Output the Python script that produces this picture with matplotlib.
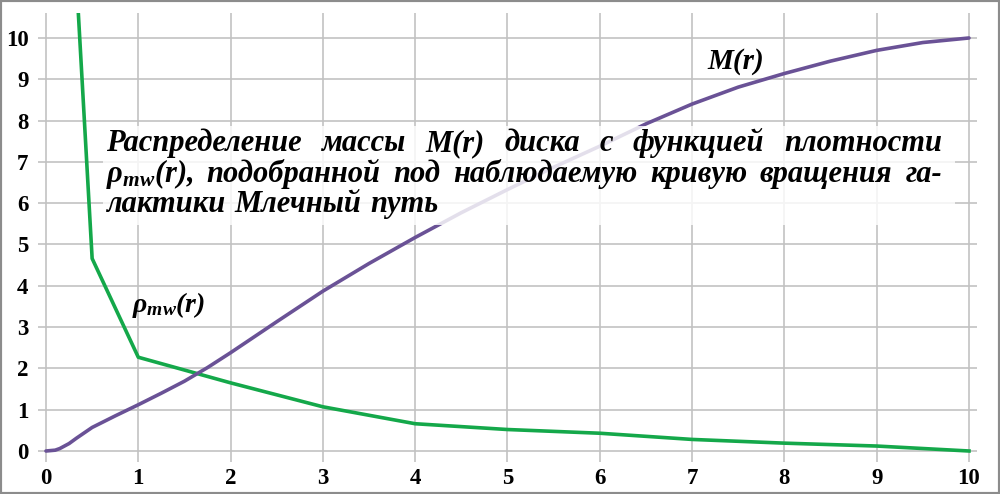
import matplotlib
matplotlib.use('Agg')
import matplotlib.pyplot as plt
from matplotlib.patches import Rectangle

# rho_mw(r): density profile (polyline)
r_rho = [0.3, 0.5, 1, 2, 3, 4, 5, 6, 7, 8, 9, 10]
rho = [12.6, 4.66, 2.27, 1.65, 1.07, 0.66, 0.52, 0.43, 0.28, 0.19, 0.12, 0.0]

# M(r): disk mass distribution
r_mass = [0, 0.1, 0.15, 0.25, 0.33, 0.5, 0.75, 1, 1.25, 1.5, 1.75, 2, 2.5, 3,
          3.5, 4, 4.5, 5, 5.5, 6, 6.5, 7, 7.5, 8, 8.5, 9, 9.5, 10]
mass = [0, 0.02, 0.06, 0.18, 0.31, 0.57, 0.85, 1.12, 1.4, 1.69, 2.02, 2.38,
        3.13, 3.87, 4.54, 5.17, 5.77, 6.33, 6.87, 7.38, 7.92, 8.4, 8.81, 9.14,
        9.44, 9.7, 9.89, 10.0]

x_ticks = list(range(0, 11))
y_ticks = list(range(0, 11))

caption_lines = [
    "Распределение массы M(r) диска с функцией плотности",
    r"$\rho_{mw}$(r), подобранной под наблюдаемую кривую вращения га-",
    "лактики Млечный путь",
]

plt.rcParams['mathtext.fontset'] = 'custom'
plt.rcParams['mathtext.rm'] = 'Liberation Serif:bold:italic'
plt.rcParams['mathtext.it'] = 'Liberation Serif:bold:italic'
plt.rcParams['mathtext.bf'] = 'Liberation Serif:bold:italic'

serif = 'Liberation Serif'
W, H = 1000, 494
fig = plt.figure(figsize=(W / 100, H / 100), dpi=100)
fig.patch.set_facecolor('white')

# axes box in pixels (from top-left)
left_px, right_px, top_px, bottom_px = 42.3, 977.3, 13.2, 454.3
ax = fig.add_axes([left_px / W, 1 - bottom_px / H,
                   (right_px - left_px) / W, (bottom_px - top_px) / H])

green = '#14a84a'
purple = '#6a5296'
ax.plot(r_rho, rho, color=green, lw=2.6, zorder=2, solid_joinstyle='round')
ax.plot(r_mass, mass, color=purple, lw=2.6, zorder=2, solid_capstyle='round',
        solid_joinstyle='round')

ax.set_xlim(-0.04, 10.09)
ax.set_ylim(-0.08, 10.6)
ax.set_xticks(x_ticks)
ax.set_yticks(y_ticks)
ax.grid(True, color='#c2c2c2', lw=1.2)
ax.set_axisbelow(True)
for s in ax.spines.values():
    s.set_visible(False)
ax.tick_params(axis='x', length=6, width=1.2, color='#c2c2c2', pad=4,
               labelsize=16.5)
ax.tick_params(axis='y', length=3, width=1.2, color='#c2c2c2', pad=7,
               labelsize=16.5)
for lab in ax.get_xticklabels() + ax.get_yticklabels():
    lab.set_fontfamily(serif)
    lab.set_fontweight('bold')

# curve labels
lab_kw = dict(fontfamily=serif, fontweight='bold', fontstyle='italic',
              color='black', zorder=5)
ax.text(0.93, 3.37, r"$\rho_{mw}$(r)", ha='left', va='baseline', fontsize=20,
        **lab_kw)
ax.text(7.17, 9.26, "M(r)", ha='left', va='baseline', fontsize=21, **lab_kw)

# translucent white box behind the caption
box = Rectangle((103 / 100, (H - 225) / 100), (955 - 103) / 100, (225 - 126) / 100,
                transform=fig.dpi_scale_trans, facecolor='white', alpha=0.82,
                edgecolor='none', zorder=3)
fig.add_artist(box)

# justified caption, word by word
fig.canvas.draw()
renderer = fig.canvas.get_renderer()
x0, x1 = 106, 942
baselines = [151, 182, 212]
cap_kw = dict(fontfamily=serif, fontweight='bold', fontstyle='italic',
              fontsize=22, color='black', va='baseline', ha='left',
              transform=fig.dpi_scale_trans, zorder=4)
for i, line in enumerate(caption_lines):
    words = line.split(' ')
    texts = [fig.text(0, 0, w, **cap_kw) for w in words]
    widths = [t.get_window_extent(renderer).width for t in texts]
    if i < len(caption_lines) - 1:
        gap = (x1 - x0 - sum(widths)) / (len(words) - 1)
    else:
        gap = 9
    x = x0
    for t, w in zip(texts, widths):
        t.set_position((x / 100, (H - baselines[i]) / 100))
        x += w + gap

# grey frame around the picture
frame = Rectangle((0, 0), 1, 1, transform=fig.transFigure, fill=False,
                  edgecolor='#8c8c8c', lw=3, zorder=10)
fig.add_artist(frame)

fig.savefig('out.png', dpi=100)
